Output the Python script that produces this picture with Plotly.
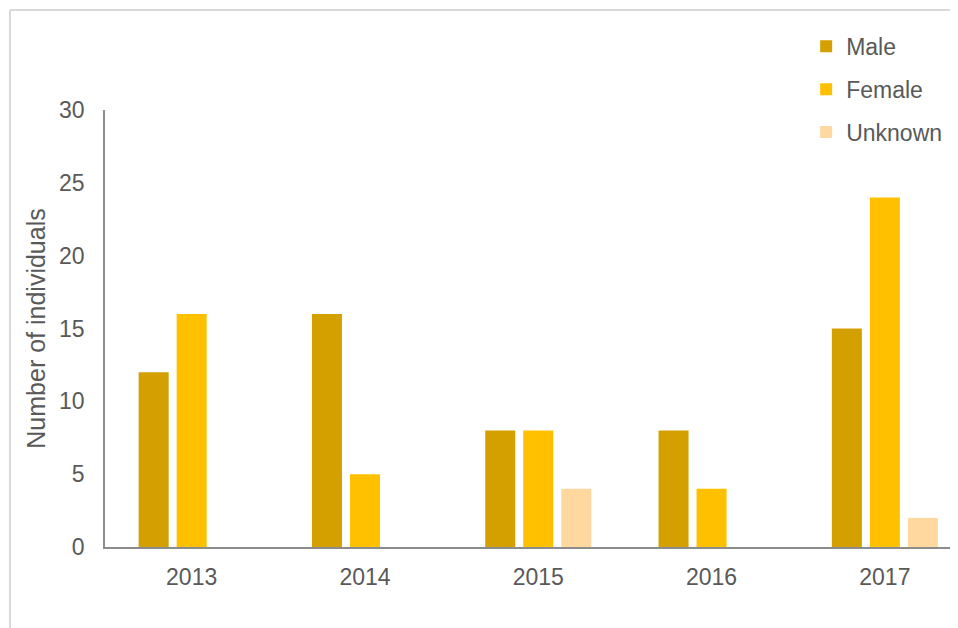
import plotly.graph_objects as go

years = ["2013", "2014", "2015", "2016", "2017"]
male = [12, 16, 8, 8, 15]
female = [16, 5, 8, 4, 24]
unknown = [None, None, 4, None, 2]

series_names = ["Male", "Female", "Unknown"]
series_colors = ["#D4A000", "#FFC000", "#FFD8A0"]

FONT = "Arial, Liberation Sans, sans-serif"
TXT = "#595959"

fig = go.Figure()
for name, vals, col in zip(series_names, [male, female, unknown], series_colors):
    fig.add_trace(go.Bar(
        x=years, y=vals, name=name, legendgroup=name,
        marker=dict(color=col, line=dict(width=0)),
    ))

fx0 = (2 - 97) / 853
fy1 = (539 - 2) / 437
frame = dict(color="#D9D9D9", width=2)

fig.update_layout(
    width=950, height=620,
    margin=dict(l=97, r=0, t=102, b=81),
    paper_bgcolor="white", plot_bgcolor="white",
    barmode="group", bargap=0.342, bargroupgap=0.21,
    font=dict(family=FONT, size=23, color=TXT),
    showlegend=True,
    legend=dict(
        x=0.822, y=1.195, xanchor="left", yanchor="top",
        traceorder="grouped", tracegroupgap=10,
        font=dict(family=FONT, size=23, color=TXT),
        bgcolor="rgba(0,0,0,0)",
    ),
    xaxis=dict(
        type="category", range=[-0.5, 4.422],
        showline=True, linecolor="#8C8C8C", linewidth=1.5,
        showgrid=False, ticks="", zeroline=False,
        tickfont=dict(family=FONT, size=23, color=TXT),
        ticklabelstandoff=9,
    ),
    yaxis=dict(
        range=[0, 30], dtick=5, tick0=0,
        showline=True, linecolor="#8C8C8C", linewidth=1.5,
        showgrid=False, ticks="", zeroline=False,
        tickfont=dict(family=FONT, size=23, color=TXT),
        ticklabelstandoff=14,
        title=dict(text="Number of individuals", standoff=6,
                   font=dict(family=FONT, size=25, color=TXT)),
    ),
    shapes=[
        dict(type="line", xref="paper", yref="paper",
             x0=fx0, x1=1.05, y0=fy1, y1=fy1, line=frame, layer="below"),
        dict(type="line", xref="paper", yref="paper",
             x0=fx0, x1=fx0, y0=-0.3, y1=fy1, line=frame, layer="below"),
    ],
)

fig.write_html("out.html")
